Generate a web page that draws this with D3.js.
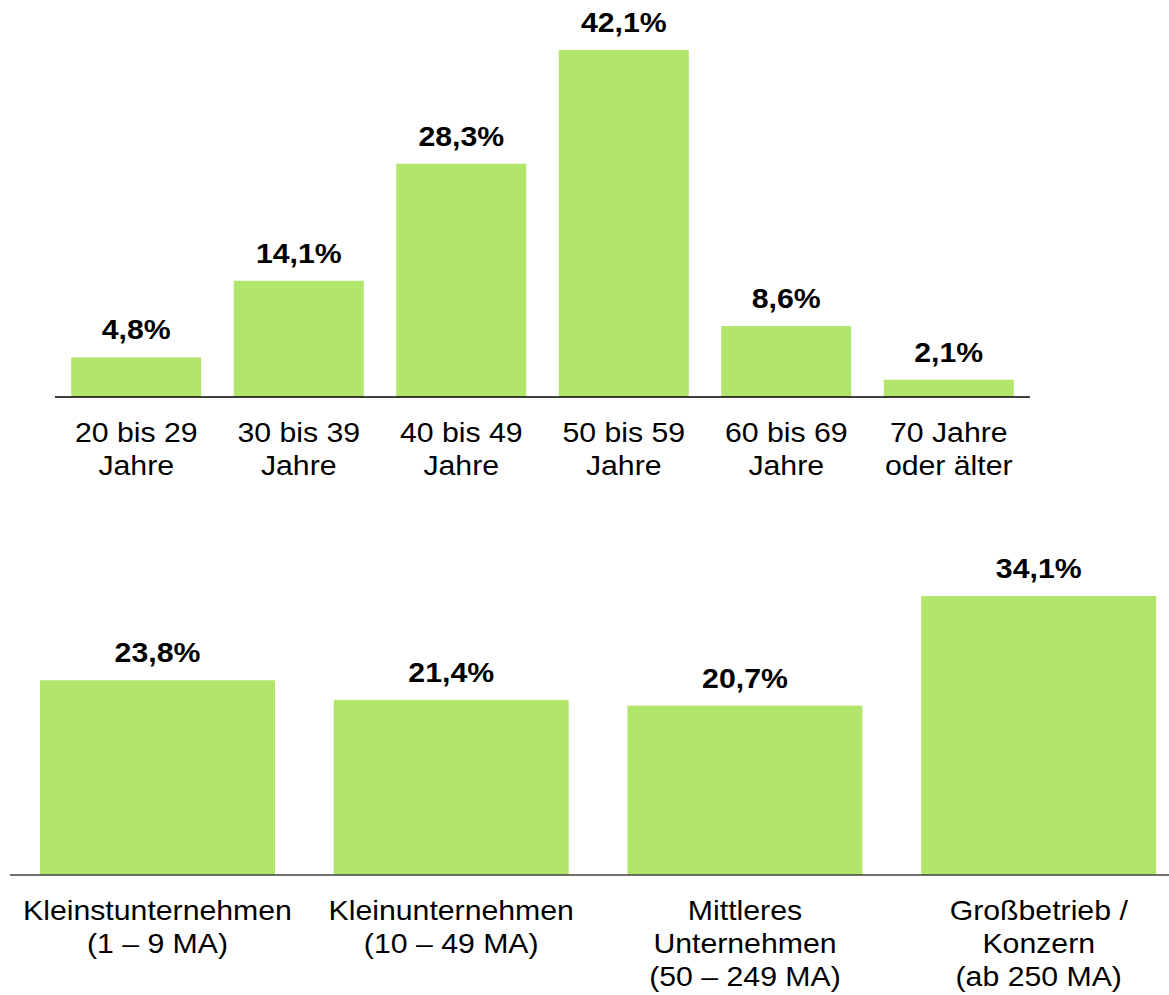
<!DOCTYPE html>
<html>
<head>
<meta charset="utf-8">
<script src="https://unpkg.com/d3@7/dist/d3.min.js"></script>
<style>
  body { margin: 0; background: #fff; }
  svg text { font-family: "Liberation Sans", Arial, sans-serif; fill: #000; }
</style>
</head>
<body>
<div id="chart"></div>
<script>
// age groups
const ageLabels = [["20 bis 29", "Jahre"], ["30 bis 39", "Jahre"], ["40 bis 49", "Jahre"],
  ["50 bis 59", "Jahre"], ["60 bis 69", "Jahre"], ["70 Jahre", "oder älter"]];
const ageValues = [4.8, 14.1, 28.3, 42.1, 8.6, 2.1];

// company size
const sizeLabels = [["Kleinstunternehmen", "(1 – 9 MA)"], ["Kleinunternehmen", "(10 – 49 MA)"],
  ["Mittleres", "Unternehmen", "(50 – 249 MA)"], ["Großbetrieb /", "Konzern", "(ab 250 MA)"]];
const sizeValues = [23.8, 21.4, 20.7, 34.1];

const width = 1169, height = 995;
const barColor = "#b2e56b";
const fmt = v => v.toFixed(1).replace(".", ",") + "%";

const svg = d3.select("#chart").append("svg")
  .attr("width", width)
  .attr("height", height);

function drawPanel(labels, values, opt) {
  const g = svg.append("g");
  const idx = values.map((d, i) => i);
  const x = d3.scaleBand().domain(idx).range([opt.x0, opt.x1]).paddingInner(0.2).paddingOuter(0.1);
  const y = d3.scaleLinear().domain([0, opt.maxVal]).range([opt.base, opt.top]);

  g.selectAll("rect").data(values).join("rect")
    .attr("x", (d, i) => x(i))
    .attr("width", x.bandwidth())
    .attr("y", d => y(d))
    .attr("height", d => y(0) - y(d))
    .attr("fill", barColor);

  g.append("line")
    .attr("x1", opt.lineX0).attr("x2", opt.lineX1)
    .attr("y1", y(0)).attr("y2", y(0))
    .attr("stroke", opt.lineColor).attr("stroke-width", 1.5);

  // value labels
  g.selectAll("text.val").data(values).join("text")
    .attr("class", "val")
    .attr("transform", (d, i) => `translate(${x(i) + x.bandwidth() / 2},${y(d) - 18}) scale(1.08,1)`)
    .attr("text-anchor", "middle")
    .style("font-size", "28px")
    .style("font-weight", "bold")
    .text(d => fmt(d));

  // category labels
  labels.forEach((lines, i) => {
    lines.forEach((t, k) => {
      g.append("text")
        .attr("transform", `translate(${x(i) + x.bandwidth() / 2},${y(0) + opt.labelDy + k * 33}) scale(1.1,1)`)
        .attr("text-anchor", "middle")
        .style("font-size", "27.5px")
        .text(t);
    });
  });
}

drawPanel(ageLabels, ageValues, {
  x0: 55, x1: 1030, lineX0: 55, lineX1: 1030,
  base: 397, top: 50, maxVal: 42.1, labelDy: 45, lineColor: "#000"
});

drawPanel(sizeLabels, sizeValues, {
  x0: 10.6, x1: 1185.6, lineX0: 10, lineX1: 1169,
  base: 875, top: 596, maxVal: 34.1, labelDy: 45, lineColor: "#404040"
});
</script>
</body>
</html>
